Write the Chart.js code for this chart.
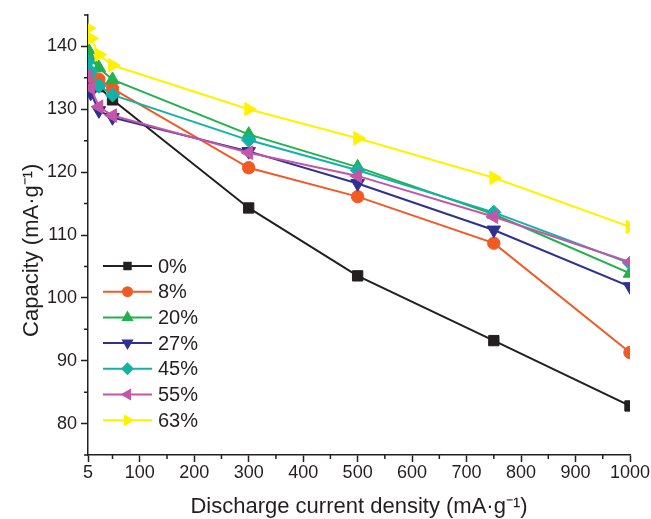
<!DOCTYPE html>
<html>
<head>
<meta charset="utf-8">
<script src="https://cdn.jsdelivr.net/npm/chart.js@4/dist/chart.umd.min.js"></script>
<style>
  html, body { margin: 0; padding: 0; background: #ffffff; }
  canvas { display: block; }
</style>
</head>
<body>
<canvas id="c" width="651" height="519"></canvas>
<script>
// ---- data ----
const xValues = [5, 10, 25, 50, 300, 500, 750, 1000];
const seriesLabels = ['0%', '8%', '20%', '27%', '45%', '55%', '63%'];
const s0  = [135.5, 134.6, 133.6, 131.5, 114.3, 103.5, 93.2, 82.8];
const s8  = [136.0, 135.3, 134.8, 133.3, 120.7, 116.1, 108.7, 91.3];
const s20 = [139.5, 138.0, 136.6, 134.7, 126.0, 120.8, 113.3, 103.9];
const s27 = [133.5, 132.6, 129.8, 128.7, 123.3, 118.2, 110.8, 101.8];
const s45 = [137.6, 136.0, 133.7, 132.3, 125.1, 120.3, 113.6, 105.5];
const s55 = [135.3, 133.4, 130.4, 129.0, 123.1, 119.4, 112.9, 105.7];
const s63 = [142.9, 141.3, 138.7, 137.0, 130.0, 125.4, 119.1, 111.3];
const seriesValues = [s0, s8, s20, s27, s45, s55, s63];
const xMajorTicks = [5, 100, 200, 300, 400, 500, 600, 700, 800, 900, 1000];
const xMinorTicks = [50, 150, 250, 350, 450, 550, 650, 750, 850, 950];
const yMajorTicks = [80, 90, 100, 110, 120, 130, 140];
const yMinorTicks = [75, 85, 95, 105, 115, 125, 135, 145];

// ---- styles ----
const colors = ['#231f20', '#f15a24', '#22b14c', '#2e3192', '#14b2a6', '#c455a8', '#fff200'];
const styles = ['rect', 'circle', 'triangle', 'triangle', 'rectRot', 'triangle', 'triangle'];
const rotations = [0, 0, 0, 180, 0, 270, 90];
const radii = [7.3, 6.2, 7.8, 7.8, 7.2, 7.8, 7.8];
const legendRadii = [6, 5.5, 7, 7, 6.5, 7, 7];
const FONT = 'Arial, "Liberation Sans", Helvetica, sans-serif';
const AXIS = '#231f20';

const datasets = seriesLabels.map((lab, i) => ({
  label: lab,
  data: xValues.map((x, j) => ({ x: x, y: seriesValues[i][j] })),
  borderColor: colors[i],
  backgroundColor: colors[i],
  pointBackgroundColor: colors[i],
  pointBorderColor: colors[i],
  pointBorderWidth: 1,
  borderWidth: 2,
  tension: 0,
  pointStyle: styles[i],
  pointRotation: rotations[i],
  pointRadius: radii[i],
  pointHoverRadius: radii[i],
  order: seriesLabels.length - 1 - i
}));

function drawMarker(ctx, style, x, y, r, rot, color) {
  ctx.save();
  ctx.fillStyle = color;
  ctx.translate(x, y);
  ctx.rotate(rot * Math.PI / 180);
  ctx.beginPath();
  if (style === 'rect') {
    const s = Math.SQRT1_2 * r;
    ctx.rect(-s, -s, 2 * s, 2 * s);
  } else if (style === 'circle') {
    ctx.arc(0, 0, r, 0, Math.PI * 2);
  } else if (style === 'rectRot') {
    ctx.moveTo(0, -r); ctx.lineTo(r, 0); ctx.lineTo(0, r); ctx.lineTo(-r, 0);
  } else {
    for (let k = 0; k < 3; k++) {
      const a = k * 2 * Math.PI / 3;
      const px = Math.sin(a) * r, py = -Math.cos(a) * r;
      if (k === 0) ctx.moveTo(px, py); else ctx.lineTo(px, py);
    }
  }
  ctx.closePath();
  ctx.fill();
  ctx.restore();
}

const extrasPlugin = {
  id: 'extras',
  afterDraw(chart) {
    const ctx = chart.ctx;
    const xs = chart.scales.x, ys = chart.scales.y;
    // minor ticks
    ctx.save();
    ctx.strokeStyle = AXIS;
    ctx.lineWidth = 1.5;
    ctx.beginPath();
    xMinorTicks.forEach(v => {
      const px = xs.getPixelForValue(v);
      ctx.moveTo(px, xs.top); ctx.lineTo(px, xs.top + 4);
    });
    yMinorTicks.forEach(v => {
      const py = ys.getPixelForValue(v);
      ctx.moveTo(ys.right, py); ctx.lineTo(ys.right - 4, py);
    });
    ctx.stroke();
    ctx.restore();

    // legend inside plot area
    const lx = chart.chartArea.left + 15;
    const ly0 = chart.chartArea.top + 251;
    const rowH = 25.7;
    ctx.save();
    ctx.font = '20px ' + FONT;
    ctx.textBaseline = 'middle';
    ctx.textAlign = 'left';
    seriesLabels.forEach((lab, i) => {
      const y = ly0 + i * rowH;
      ctx.strokeStyle = colors[i];
      ctx.lineWidth = 2;
      ctx.beginPath();
      ctx.moveTo(lx, y); ctx.lineTo(lx + 49, y);
      ctx.stroke();
      drawMarker(ctx, styles[i], lx + 24.5, y, legendRadii[i], rotations[i], colors[i]);
      ctx.fillStyle = '#231f20';
      ctx.fillText(lab, lx + 55, y + 1);
    });
    ctx.restore();
  }
};

new Chart(document.getElementById('c'), {
  type: 'line',
  data: { datasets: datasets },
  plugins: [extrasPlugin],
  options: {
    responsive: false,
    devicePixelRatio: 1,
    animation: false,
    events: [],
    layout: { padding: { left: 0, right: 21, top: 15, bottom: 0 } },
    plugins: {
      legend: { display: false },
      tooltip: { enabled: false }
    },
    scales: {
      x: {
        type: 'linear',
        min: 5,
        max: 1000,
        afterBuildTicks(scale) { scale.ticks = xMajorTicks.map(v => ({ value: v })); },
        afterFit(scale) { scale.height = 64; },
        grid: { display: true, drawOnChartArea: false, drawTicks: true, tickLength: 7, tickColor: AXIS, tickWidth: 1.5 },
        border: { display: true, color: AXIS, width: 1.5 },
        ticks: { color: '#231f20', font: { family: FONT, size: 18 }, padding: 0, maxRotation: 0, autoSkip: false,
                 callback: v => String(v) },
        title: { display: true, text: 'Discharge current density (mA·g⁻¹)', color: '#231f20',
                 font: { family: FONT, size: 22, lineHeight: 1.0 }, padding: { top: 0, bottom: 1 } }
      },
      y: {
        type: 'linear',
        min: 75,
        max: 145,
        afterBuildTicks(scale) { scale.ticks = yMajorTicks.map(v => ({ value: v })); },
        afterFit(scale) { scale.width = 88; },
        grid: { display: true, drawOnChartArea: false, drawTicks: true, tickLength: 7, tickColor: AXIS, tickWidth: 1.5 },
        border: { display: true, color: AXIS, width: 1.5 },
        ticks: { color: '#231f20', font: { family: FONT, size: 18 }, padding: 4, autoSkip: false,
                 callback: v => String(v) },
        title: { display: true, text: 'Capacity (mA·g⁻¹)     ', color: '#231f20',
                 font: { family: FONT, size: 22, lineHeight: 1.0 }, padding: { top: 21, bottom: 0 } }
      }
    }
  }
});
</script>
</body>
</html>
